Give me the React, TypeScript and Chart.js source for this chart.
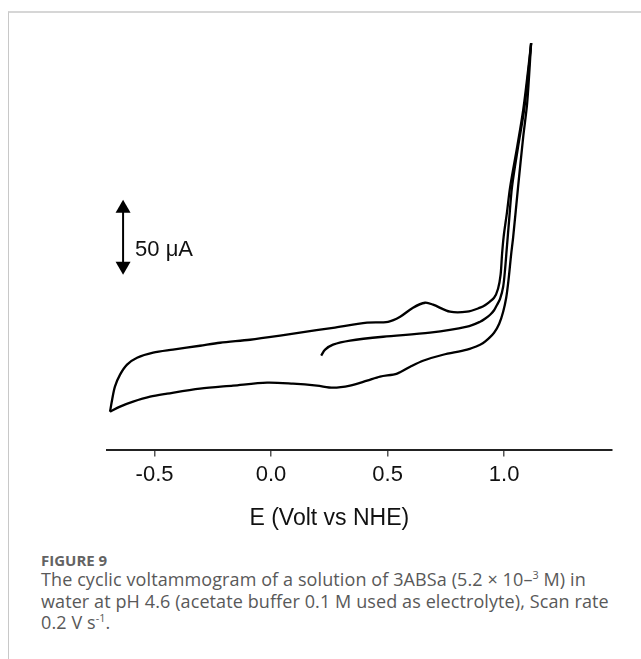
import React, { useEffect, useRef } from "react";
import { Chart, registerables } from "chart.js";

Chart.register(...registerables);

// ---- Data (E in V vs NHE, current in µA, arbitrary zero) ----
const xTickValues = [-0.5, 0.0, 0.5, 1.0];
const xTitle = "E (Volt vs NHE)";
const scaleBarLabel = "50 μA";
const scaleBarSize = 50; // µA
const scaleBarE = -0.635;
const scaleBarBase = 66.7;
const titleE = 0.25;

// first anodic sweep (starts at rest potential)
const scan1E = [0.215, 0.232, 0.266, 0.339, 0.481, 0.682, 0.841, 0.897, 0.918, 0.94, 0.957, 0.97, 0.983, 0.996, 1.004, 1.011, 1.022, 1.034, 1.06, 1.086, 1.105, 1.116];
const scan1I = [12.7, 16.7, 20.0, 22.7, 25.3, 28.0, 32.0, 35.3, 37.3, 40.0, 43.0, 46.7, 50.7, 58.7, 70.0, 83.3, 104.0, 125.3, 152.0, 176.7, 203.3, 221.3];

// reverse (cathodic) sweep
const reverseE = [1.116, 1.099, 1.082, 1.06, 1.039, 1.03, 1.019, 1.009, 0.996, 0.979, 0.957, 0.918, 0.897, 0.841, 0.738, 0.652, 0.597, 0.541, 0.468, 0.412, 0.339, 0.266, 0.197, 0.094, -0.017, -0.163, -0.305, -0.446, -0.519, -0.592, -0.648, -0.691];
const reverseI = [221.3, 181.3, 158.7, 125.3, 92.0, 80.0, 63.3, 51.3, 42.0, 34.0, 28.0, 22.0, 20.0, 16.7, 13.3, 9.3, 5.3, 0.7, -1.3, -4.0, -7.3, -8.7, -7.3, -6.0, -5.3, -7.3, -9.3, -12.7, -14.7, -18.0, -21.3, -24.7];

// second anodic sweep
const scan2E = [-0.691, -0.682, -0.67, -0.648, -0.618, -0.575, -0.506, -0.421, -0.305, -0.219, -0.09, 0.039, 0.124, 0.266, 0.412, 0.502, 0.554, 0.609, 0.661, 0.695, 0.768, 0.841, 0.897, 0.918, 0.957, 0.974, 0.985, 0.991, 0.998, 1.012, 1.026, 1.056, 1.082, 1.103, 1.116];
const scan2I = [-24.7, -16.7, -8.0, 0.0, 6.7, 11.3, 14.7, 16.7, 19.3, 21.3, 23.3, 26.0, 28.0, 31.3, 34.7, 35.3, 38.7, 44.7, 48.0, 46.7, 42.0, 42.0, 44.7, 46.3, 51.3, 57.3, 66.7, 80.0, 92.0, 108.0, 125.3, 152.0, 176.7, 203.3, 221.3];

const X_MIN = -0.704;
const X_MAX = 1.463;
const Y_MIN = -50;
const Y_MAX = 230;

const AXIS_FONT = "'Liberation Sans', Arial, Helvetica, sans-serif";
const CAPTION_FONT = "'Open Sans', Lato, sans-serif";

export default function App() {
  const canvasRef = useRef<HTMLCanvasElement | null>(null);

  useEffect(() => {
    if (!canvasRef.current) return;
    const toPts = (e: number[], i: number[]) => e.map((x, k) => ({ x, y: i[k] }));
    const ds = (data: { x: number; y: number }[]) => ({
      data,
      borderColor: "#000",
      borderWidth: 2.3,
      pointRadius: 0,
      tension: 0.3,
      fill: false,
      showLine: true,
    });

    const overlay = {
      id: "overlay",
      afterDraw(chart: any) {
        const { ctx } = chart;
        const xs = chart.scales.x;
        const ys = chart.scales.y;
        ctx.save();
        // axis title
        ctx.fillStyle = "#111";
        ctx.font = `23px ${AXIS_FONT}`;
        ctx.textAlign = "center";
        ctx.textBaseline = "middle";
        ctx.fillText(xTitle, xs.getPixelForValue(titleE), xs.top + 69);

        // scale bar (double arrow)
        const px = xs.getPixelForValue(scaleBarE);
        const yTop = ys.getPixelForValue(scaleBarBase + scaleBarSize);
        const yBot = ys.getPixelForValue(scaleBarBase);
        const head = 13;
        const hw = 7.5;
        ctx.strokeStyle = "#000";
        ctx.fillStyle = "#000";
        ctx.lineWidth = 2;
        ctx.beginPath();
        ctx.moveTo(px, yTop + head - 1);
        ctx.lineTo(px, yBot - head + 1);
        ctx.stroke();
        ctx.beginPath();
        ctx.moveTo(px, yTop);
        ctx.lineTo(px - hw, yTop + head);
        ctx.lineTo(px + hw, yTop + head);
        ctx.closePath();
        ctx.fill();
        ctx.beginPath();
        ctx.moveTo(px, yBot);
        ctx.lineTo(px - hw, yBot - head);
        ctx.lineTo(px + hw, yBot - head);
        ctx.closePath();
        ctx.fill();

        ctx.font = `22px ${AXIS_FONT}`;
        ctx.textAlign = "left";
        ctx.textBaseline = "middle";
        ctx.fillStyle = "#111";
        ctx.fillText(scaleBarLabel, px + 12, yBot - 25);
        ctx.restore();
      },
    };

    const chart = new Chart(canvasRef.current, {
      type: "scatter",
      data: {
        datasets: [
          ds(toPts(scan1E, scan1I)),
          ds(toPts(reverseE, reverseI)),
          ds(toPts(scan2E, scan2I)),
        ],
      },
      options: {
        animation: false,
        responsive: false,
        devicePixelRatio: 1,
        layout: { padding: { left: 107, right: 29, top: 30, bottom: 52 } },
        plugins: { legend: { display: false }, tooltip: { enabled: false } },
        scales: {
          x: {
            type: "linear",
            min: X_MIN,
            max: X_MAX,
            afterBuildTicks: (scale: any) => {
              scale.ticks = xTickValues.map((v) => ({ value: v }));
            },
            ticks: {
              color: "#111",
              font: { family: AXIS_FONT, size: 22 },
              padding: 5,
              maxRotation: 0,
              autoSkip: false,
              callback: (v: any) => Number(v).toFixed(1),
            },
            grid: {
              display: true,
              drawOnChartArea: false,
              drawTicks: true,
              tickLength: 7,
              color: "#555",
              lineWidth: 1.5,
            },
            border: { display: true, color: "#222", width: 2 },
            title: { display: false },
          },
          y: {
            type: "linear",
            display: false,
            min: Y_MIN,
            max: Y_MAX,
          },
        },
      },
      plugins: [overlay],
    } as any);
    return () => chart.destroy();
  }, []);

  return (
    <div style={{ position: "absolute", left: 0, top: 0, width: 641, height: 659, background: "#fff", overflow: "hidden" }}>
      <div
        style={{
          position: "absolute",
          left: 8,
          top: 11,
          width: 640,
          height: 660,
          borderTop: "2px solid #d6d6d6",
          borderLeft: "1px solid #c8c8c8",
        }}
      />
      <canvas ref={canvasRef} width={641} height={545} style={{ position: "absolute", left: 0, top: 0, width: 641, height: 545 }} />
      <div
        style={{
          position: "absolute",
          left: 41,
          top: 551,
          fontFamily: CAPTION_FONT,
          fontWeight: 700,
          fontSize: 15,
          lineHeight: "18px",
          color: "#636363",
          whiteSpace: "nowrap",
        }}
      >
        FIGURE 9
      </div>
      <div
        style={{
          position: "absolute",
          left: 41,
          top: 569,
          width: 598,
          fontFamily: CAPTION_FONT,
          fontSize: 18,
          lineHeight: "21.7px",
          letterSpacing: 0.1,
          color: "#595959",
          whiteSpace: "nowrap",
        }}
      >
        The cyclic voltammogram of a solution of 3ABSa (5.2 × 10–<sup style={{ fontSize: "0.6em", lineHeight: 0 }}>3</sup> M) in
        <br />
        water at pH 4.6 (acetate buffer 0.1 M used as electrolyte), Scan rate
        <br />
        0.2 V s<sup style={{ fontSize: "0.6em", lineHeight: 0 }}>-1</sup>.
      </div>
    </div>
  );
}
